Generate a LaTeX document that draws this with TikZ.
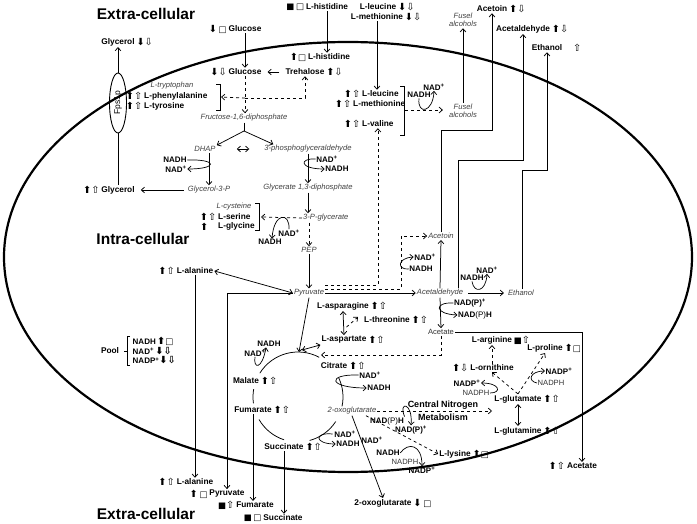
\documentclass[tikz,border=0pt]{standalone}
\usepackage{fontspec}
\setmainfont{Liberation Sans}
\newfontfamily\symf{DejaVu Sans}
\usetikzlibrary{arrows.meta, shapes.geometric, positioning, calc}

\newcommand{\upF}{{\symf\fontsize{9.8}{10}\selectfont\symbol{"2B06}}}
\newcommand{\upO}{{\symf\fontsize{9.8}{10}\selectfont\symbol{"21E7}}}
\newcommand{\dnF}{{\symf\fontsize{9.8}{10}\selectfont\symbol{"2B07}}}
\newcommand{\dnO}{{\symf\fontsize{9.8}{10}\selectfont\symbol{"21E9}}}
\newcommand{\sqF}{{\symf\fontsize{8.5}{9}\selectfont\symbol{"25A0}}}
\newcommand{\sqO}{{\symf\fontsize{8.5}{9}\selectfont\symbol{"25A1}}}
\newcommand{\plus}{\textsuperscript{+}}

\tikzset{
  met/.style={font=\bfseries\fontsize{8.3}{9}\selectfont, inner sep=1pt},
  itl/.style={font=\itshape\fontsize{7.6}{8.5}\selectfont, text=black!75, inner sep=1pt},
  cof/.style={font=\bfseries\fontsize{8}{9}\selectfont, inner sep=0.5pt},
  cofr/.style={font=\fontsize{7.6}{9}\selectfont, text=black!80, inner sep=0.5pt},
  big/.style={font=\bfseries\fontsize{15.5}{17}\selectfont},
  ic/.style={inner sep=0.5pt},
  ln/.style={line width=0.75pt},
  flux/.style={->, line width=0.75pt},
  bflux/.style={<->, line width=0.75pt},
  dflux/.style={->, dashed, line width=0.75pt},
  cofa/.style={->, line width=0.7pt},
}

\begin{document}
\begin{tikzpicture}[x=1pt, y=-1pt, >={Straight Barb[length=3.2pt,width=5.8pt]}]
\useasboundingbox (0,0) rectangle (697,524);

% Cell
\draw[line width=2.2pt] (348,257) ellipse [x radius=344pt, y radius=215pt];

% Compartments
\node[big] (extTop) at (146,14) {Extra-cellular};
\node[big] (intra) at (143,239) {Intra-cellular};
\node[big] (extBot) at (146,514) {Extra-cellular};

% Glycerol and Fps1p
\node[met, label={[ic]right:\dnF\dnO}] (glyE) at (118,42) {Glycerol};
\node[draw, ellipse, line width=0.9pt, minimum width=17pt, minimum height=60pt, inner sep=0pt] (fps) at (118,103) {\rotatebox{90}{\fontsize{8.5}{9}\selectfont Fps1p}};
\node[met, label={[ic]left:\upF\upO}] (glyI) at (118,190) {Glycerol};
\node[itl] (g3p) at (209,190) {Glycerol-3-P};

% Glucose, trehalose, histidine
\node[met, label={[ic]left:\dnF\,\sqO}] (glcE) at (245,29) {Glucose};
\node[met, label={[ic]left:\dnF\dnO}] (glc) at (245,72) {Glucose};
\node[met, label={[ic]right:\upF\dnO}] (tre) at (305,72) {Trehalose};
\node[met, label={[ic]left:\sqF\,\sqO}] (hisE) at (327,7) {L-histidine};
\node[met, label={[ic]left:\upF\sqO}] (his) at (329,57) {L-histidine};

% Aromatic amino acids
\node[itl] (trp) at (172,86) {L-tryptophan};
\node[met, anchor=west, label={[ic]left:\upF\upO}] (phe) at (143,96) {L-phenylalanine};
\node[met, anchor=west, label={[ic]left:\upF\upO}] (tyr) at (143,106) {L-tyrosine};
\coordinate (aroB) at (221,97);
\coordinate (gj) at (245,98);

% Glycolysis
\node[itl] (fru) at (244,118) {Fructose-1,6-diphosphate};
\coordinate (fs) at (244,131);
\node[itl] (dhap) at (205,149) {DHAP};
\node[itl] (gap) at (308,149) {3-phosphoglyceraldehyde};
\node[itl] (gbp) at (308,188) {Glycerate 1,3-diphosphate};
\node[itl, anchor=west] (p3g) at (302,218) {3-P-glycerate};
\node[itl] (pep) at (309,250) {PEP};
\node[itl] (pyr) at (309,293) {Pyruvate};
\node[cof] (nadh1) at (175,160) {NADH};
\node[cof] (nad1) at (176,169) {NAD\plus};
\node[cof] (nad2) at (327,159) {NAD\plus};
\node[cof] (nadh2) at (337,169) {NADH};

% Serine family
\node[itl] (cys) at (234,207) {L-cysteine};
\node[met, anchor=west, label={[ic]left:\upF\upO}] (ser) at (217,216.5) {L-serine};
\node[met, anchor=west, label={[ic,label distance=8pt]left:\upF}] (gly) at (217,226.5) {L-glycine};
\coordinate (serB) at (261,217);
\node[cof] (nad3) at (289,233) {NAD\plus};
\node[cof] (nadh3) at (270,242) {NADH};

% Alanine, pyruvate export
\node[met, label={[ic]left:\upF\upO}] (ala) at (195,271) {L-alanine};
\node[met, label={[ic]left:\upF\upO}] (alaE) at (195,482) {L-alanine};
\node[met, label={[ic]left:\upF\,\sqO}] (pyrE) at (227,494) {Pyruvate};

% Pool
\node[met] (pool) at (110,351) {Pool};
\node[cof, anchor=west] (poolA) at (132,341.5) {NADH\,\upF\sqO};
\node[cof, anchor=west] (poolB) at (132,351) {NAD\plus\,\dnF\dnO};
\node[cof, anchor=west] (poolC) at (132,360.5) {NADP\plus\dnF\dnO};

% TCA cycle
\coordinate (tca) at (298,397);
\coordinate (tcaTop) at (299,352);
\coordinate (tcaIn) at (321,355);
\node[met, label={[ic]right:\upF\upO}] (mal) at (246,381) {Malate};
\node[met, label={[ic]right:\upF\upO}] (fum) at (253,410) {Fumarate};
\node[met, label={[ic]right:\upF\upO}] (suc) at (284,447) {Succinate};
\node[met, label={[ic]right:\upF\upO}] (cit) at (334,366) {Citrate};
\node[itl] (oxo) at (352,411) {2-oxoglutarate};
\node[cof] (nadh5) at (269,344) {NADH};
\node[cof] (nad5) at (255,353) {NAD\plus};
\node[cof] (nad6) at (370,375) {NAD\plus};
\node[cof] (nadh6) at (379,388) {NADH};
\node[cof] (nad7) at (345,434) {NAD\plus};
\node[cof] (nadh7) at (348,444) {NADH};

% Aspartate family
\node[met, label={[ic]right:\upF\upO}] (asn) at (343,306) {L-asparagine};
\node[met, label={[ic]right:\upF\upO}] (thr) at (387,320) {L-threonine};
\node[met, label={[ic]right:\upF\upO}] (asp) at (344,340) {L-aspartate};

% 2-oxoglutarate branches
\node[met, font=\bfseries\fontsize{9}{10}\selectfont] (cnmA) at (443,405) {Central Nitrogen};
\node[met, font=\bfseries\fontsize{9}{10}\selectfont] (cnmB) at (443,417) {Metabolism};
\coordinate (cnmT) at (492,411);
\node[cof] (npH) at (387,421) {NAD\textmd{(P)}H};
\node[cof] (npP) at (411,430) {NAD(P)\plus};
\node[met, label={[ic]right:\upF\sqO}] (lys) at (455,454) {L-lysine};
\node[cof] (nad8) at (372,440) {NAD\plus};
\node[cof] (nadh8) at (388,453) {NADH};
\node[cofr] (nph8) at (405,462) {NADPH};
\node[cof] (np8) at (422,470) {NADP\plus};
\node[met, label={[ic]right:\dnF\,\sqO}] (oxoE) at (383,503) {2-oxoglutarate};
\node[met, label={[ic]left:\sqF\upO}] (fumE) at (255,505) {Fumarate};
\node[met, label={[ic]left:\sqF\,\sqO}] (sucE) at (283,518) {Succinate};

% Branched chain amino acids, fusel alcohols
\node[met, anchor=west, label={[ic]left:\upF\upO}] (leu) at (361,94) {L-leucine};
\node[met, anchor=west, label={[ic]left:\upF\upO}] (metI) at (352,104) {L-methionine};
\node[met, anchor=west, label={[ic]left:\upF\upO}] (val) at (361,124) {L-valine};
\node[met, label={[ic]right:\dnF\dnO}] (leuE) at (378,7) {L-leucine};
\node[met, label={[ic]right:\dnF\dnO}] (metE) at (377,17) {L-methionine};
\coordinate (bcaB) at (405,110);
\node[itl, align=center] (fus) at (463,111) {Fusel\\alcohols};
\node[itl, align=center] (fusE) at (463,20) {Fusel\\alcohols};
\node[cof] (nadh9) at (419,95) {NADH};
\node[cof] (nad9) at (434,87) {NAD\plus};

% Acetaldehyde node and products
\node[itl] (ald) at (440,293) {Acetaldehyde};
\node[itl] (aco) at (441,236) {Acetoin};
\node[itl] (eth) at (521,293) {Ethanol};
\node[font=\fontsize{7.6}{9}\selectfont, text=black!80, inner sep=1pt] (ace) at (441,332) {Acetate};
\node[cof] (nad10) at (425,257) {NAD\plus};
\node[cof] (nadh10) at (421,269) {NADH};
\node[cof] (nadh11) at (472,278) {NADH};
\node[cof] (nad11) at (487,270) {NAD\plus};
\node[cof] (npP2) at (470,303) {NAD(P)\plus};
\node[cof] (npH2) at (475,315) {NAD\textmd{(P)}H};
\node[met, label={[ic]right:\upF\dnO}] (acoE) at (492,9) {Acetoin};
\node[met, label={[ic]right:\upF\dnO}] (aldE) at (523,29) {Acetaldehyde};
\node[met, label={[ic,label distance=9pt]right:\upO}] (ethE) at (547,48) {Ethanol};
\node[met, label={[ic]left:\upF\upO}] (aceE) at (582,466) {Acetate};
\coordinate (acoK) at (441,130);
\coordinate (aldK) at (458,160);
\coordinate (ethK) at (522,170);

% Nitrogen metabolism
\node[met, label={[ic]right:\sqF\upO}] (arg) at (492,340) {L-arginine};
\node[met, label={[ic]right:\upF\sqO}] (pro) at (545,348) {L-proline};
\node[met, label={[ic]left:\upF\dnO}] (orn) at (492,368) {L-ornithine};
\node[met, label={[ic]right:\upF\upO}] (glu) at (518,399) {L-glutamate};
\node[met, label={[ic]right:\upF\upO}] (gln) at (518,431) {L-glutamine};
\node[cof] (np12) at (467,383) {NADP\plus};
\node[cofr] (nph12) at (476,393) {NADPH};
\node[cof] (np13) at (559,371) {NADP\plus};
\node[cofr] (nph13) at (551,383) {NADPH};

% Brackets
\draw[ln] (216,84) -- (220,84) -- (220,110) -- (216,110);
\draw[ln] (255,203) -- (259,203) -- (259,230) -- (255,230);
\draw[ln] (400,86) -- (404,86) -- (404,135) -- (400,135);
\draw[ln] (130,336) -- (127,336) -- (127,365) -- (130,365) (124,351) -- (127,351);

% Transport
\draw[ln] (glyI.north) -- (fps.south);
\draw[flux] (fps.north) -- (glyE.south);
\draw[flux] (glcE.south) -- (glc.north);
\draw[flux] (hisE.south) -- (hisE.south |- his.north);
\draw[flux] (metE.south) -- (metE.south |- leu.north);
\draw[flux] (fus.north) -- (fusE.south);
\draw[flux] (aco.north) -- (acoK) -| (acoE.south);
\draw[flux] (ald.north -| aldK) -- (aldK) -| (aldE.south);
\draw[flux] (eth.north -| ethK) -- (ethK) -| (ethE.south);
\draw[flux] (ace.east) -| (aceE.north);
\draw[flux] (ala.south) -- (ala.south |- alaE.north);
\draw[flux] (pyr.west) -| (pyrE.north);
\draw[flux] (fum.south) -- (fum.south |- fumE.north);
\draw[flux] (suc.south) -- (suc.south |- sucE.north);
\draw[flux] (oxo.south) -- (oxoE.north);

% Sugars
\draw[flux, shorten <=5pt, shorten >=5pt] (tre.west) -- (glc.east);
\draw[dflux] (glc.south) -- (glc.south |- fru.north);
\draw[dflux] (gj) -- (aroB);
\draw[dflux] (gj) -| (tre.south);
\draw[flux, shorten <=3pt, shorten >=5pt] (g3p.west) -- (glyI.east);

% Glycolysis
\draw[ln] (fru.south) -- (fs);
\draw[flux] (fs) -- (dhap.north east);
\draw[flux] (fs) -- ([xshift=10pt]gap.north west);
\draw[bflux, shorten <=20pt, shorten >=14pt] (dhap.east) -- (gap.west);
\draw[flux] (dhap.south -| g3p.north) -- (g3p.north);
\draw[flux] (gap.south) -- (gbp.north);
\draw[flux] (gbp.south) -- (gbp.south |- p3g.north);
\draw[dflux] (p3g.south -| pep.north) -- (pep.north);
\draw[flux] (pep.south) -- (pyr.north);
\draw[dflux] (p3g.west) -- (serB);
\draw[cofa] (nadh1.east) .. controls (218,159) and (218,169) .. (nad1.east);
\draw[cofa] (nad2.west) .. controls (299,158) and (299,169) .. (nadh2.west);
\draw[cofa] (nad3.north) .. controls (290,212) and (274,212) .. ([xshift=2pt]nadh3.north);

% Pyruvate node
\draw[bflux] (ala.east) -- (pyr.west);
\draw[flux] (pyr.east) -- (ald.west);
\draw[dflux] ([yshift=8pt]pyr.east) -| (val.south);
\draw[dflux] ([yshift=4pt]pyr.east) -- ++(76,0) |- (aco.west);
\draw[flux] (pyr.south) -- (tcaTop);

% Branched chain amino acids
\draw[dflux, shorten >=5pt] (bcaB) -- (fus.west |- bcaB);
\draw[cofa] (nadh9.south) .. controls (417,115) and (433,113) .. (nad9.south);

% Acetaldehyde
\draw[flux] (ald.north) -- (aco.south);
\draw[flux, shorten <=4pt, shorten >=3pt] (ald.east) -- (eth.west);
\draw[flux] (ald.south) -- (ace.north);
\draw[dflux] (ace.south) |- (tcaIn);
\draw[cofa] (nadh10.west) .. controls (397,270) and (397,258) .. (nad10.west);
\draw[cofa] (nadh11.south) .. controls (474,294) and (486,292) .. (nad11.south);
\draw[cofa] (npP2.west) .. controls (434,302) and (434,314) .. (npH2.west);

% TCA cycle
\draw[ln] (tca) ++(148:45pt) arc[start angle=148, end angle=62, radius=45pt];
\draw[ln] (tca) ++(25:45pt) arc[start angle=25, end angle=-12, radius=45pt];
\draw[ln] (tca) ++(-33:45pt) arc[start angle=-33, end angle=-75, radius=45pt];
\draw[ln] (tca) ++(-108:45pt) arc[start angle=-108, end angle=-150, radius=45pt];
\draw[ln] (tca) ++(170:45pt) arc[start angle=170, end angle=188, radius=45pt];
\draw[cofa] (nad5.south) .. controls (253,369) and (262,370) .. ([xshift=-3pt]nadh5.south);
\draw[cofa] (nad6.west) .. controls (326,374) and (328,388) .. (nadh6.west);
\draw[cofa] ([xshift=-1pt]nad7.west) .. controls (314,432) and (314,444) .. (nadh7.west);
\draw[bflux] (asn.south) -- (asp.north);
\draw[dflux] ($(asn.south)!0.5!(asp.north)+(3,4)$) -- ([shift={(-5,-3)}]thr.west);
\draw[bflux] ([shift={(3,-2)}]tcaTop) -- (asp.south west);

% 2-oxoglutarate
\draw[dflux] (oxo.east) -- (cnmT);
\draw[cofa] (npH.north east) .. controls (398,401) and (413,402) .. (npP.north);
\draw[dflux] ([xshift=14pt]oxo.south) -- (lys.west);
\draw[cofa] (nadh8.east) .. controls (408,442) and (422,444) .. (np8.north);

% Nitrogen metabolism
\draw[bflux] (glu.south) -- (gln.north);
\draw[dflux] (orn.north) -- (orn.north |- arg.south);
\draw[dflux] (glu.north) -- (orn.south);
\draw[dflux] (glu.north) -- (pro.south);
\draw[cofa] (nph12.east) .. controls (502,393) and (500,383) .. (np12.east);
\draw[cofa] (nph13.west) .. controls (527,381) and (530,371) .. (np13.west);

\end{tikzpicture}
\end{document}
